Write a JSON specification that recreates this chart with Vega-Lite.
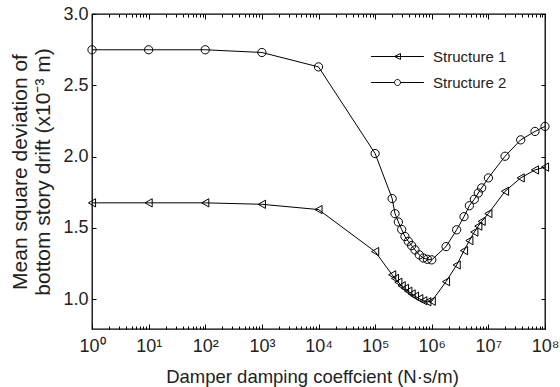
{
  "$schema": "https://vega.github.io/schema/vega-lite/v6.json",
  "width": 453,
  "height": 315,
  "autosize": {"type": "none"},
  "padding": {"left": 92, "top": 14, "right": 15, "bottom": 58},
  "background": "white",
  "config": {
    "view": {"stroke": "black", "strokeWidth": 1.3},
    "font": "Liberation Sans",
    "axis": {"domain": false, "grid": false, "labelFont": "Liberation Sans", "titleFont": "Liberation Sans", "labelColor": "#222", "titleColor": "#222", "tickColor": "black", "labelFontSize": 18, "titleFontSize": 18, "titleFontWeight": "normal"},
    "legend": {"labelFont": "Liberation Sans", "labelFontSize": 15, "labelColor": "#222"}
  },
  "data": {"values": [
    {"c": 1, "v": 1.675, "series": "Structure 1"},
    {"c": 10, "v": 1.675, "series": "Structure 1"},
    {"c": 100, "v": 1.675, "series": "Structure 1"},
    {"c": 1000, "v": 1.665, "series": "Structure 1"},
    {"c": 10000, "v": 1.628, "series": "Structure 1"},
    {"c": 100000, "v": 1.333, "series": "Structure 1"},
    {"c": 200000, "v": 1.170, "series": "Structure 1"},
    {"c": 224400, "v": 1.145, "series": "Structure 1"},
    {"c": 257000, "v": 1.118, "series": "Structure 1"},
    {"c": 294400, "v": 1.093, "series": "Structure 1"},
    {"c": 336500, "v": 1.075, "series": "Structure 1"},
    {"c": 385500, "v": 1.055, "series": "Structure 1"},
    {"c": 441600, "v": 1.036, "series": "Structure 1"},
    {"c": 505800, "v": 1.020, "series": "Structure 1"},
    {"c": 602600, "v": 1.003, "series": "Structure 1"},
    {"c": 709600, "v": 0.988, "series": "Structure 1"},
    {"c": 835600, "v": 0.981, "series": "Structure 1"},
    {"c": 1000000, "v": 0.985, "series": "Structure 1"},
    {"c": 1786000, "v": 1.122, "series": "Structure 1"},
    {"c": 2754000, "v": 1.239, "series": "Structure 1"},
    {"c": 3715000, "v": 1.340, "series": "Structure 1"},
    {"c": 4613000, "v": 1.410, "series": "Structure 1"},
    {"c": 5649000, "v": 1.470, "series": "Structure 1"},
    {"c": 6637000, "v": 1.512, "series": "Structure 1"},
    {"c": 7621000, "v": 1.545, "series": "Structure 1"},
    {"c": 10000000, "v": 1.600, "series": "Structure 1"},
    {"c": 19680000, "v": 1.756, "series": "Structure 1"},
    {"c": 37240000, "v": 1.850, "series": "Structure 1"},
    {"c": 66530000, "v": 1.906, "series": "Structure 1"},
    {"c": 100000000, "v": 1.926, "series": "Structure 1"},
    {"c": 1, "v": 2.749, "series": "Structure 2"},
    {"c": 10, "v": 2.749, "series": "Structure 2"},
    {"c": 100, "v": 2.749, "series": "Structure 2"},
    {"c": 1000, "v": 2.730, "series": "Structure 2"},
    {"c": 10000, "v": 2.629, "series": "Structure 2"},
    {"c": 100000, "v": 2.021, "series": "Structure 2"},
    {"c": 200000, "v": 1.705, "series": "Structure 2"},
    {"c": 224400, "v": 1.599, "series": "Structure 2"},
    {"c": 257000, "v": 1.541, "series": "Structure 2"},
    {"c": 294400, "v": 1.488, "series": "Structure 2"},
    {"c": 336500, "v": 1.439, "series": "Structure 2"},
    {"c": 385500, "v": 1.405, "series": "Structure 2"},
    {"c": 441600, "v": 1.375, "series": "Structure 2"},
    {"c": 505800, "v": 1.345, "series": "Structure 2"},
    {"c": 602600, "v": 1.310, "series": "Structure 2"},
    {"c": 709600, "v": 1.288, "series": "Structure 2"},
    {"c": 835600, "v": 1.279, "series": "Structure 2"},
    {"c": 1000000, "v": 1.275, "series": "Structure 2"},
    {"c": 1786000, "v": 1.368, "series": "Structure 2"},
    {"c": 2754000, "v": 1.486, "series": "Structure 2"},
    {"c": 3715000, "v": 1.578, "series": "Structure 2"},
    {"c": 4613000, "v": 1.655, "series": "Structure 2"},
    {"c": 5649000, "v": 1.700, "series": "Structure 2"},
    {"c": 6637000, "v": 1.744, "series": "Structure 2"},
    {"c": 7621000, "v": 1.780, "series": "Structure 2"},
    {"c": 10000000, "v": 1.850, "series": "Structure 2"},
    {"c": 19680000, "v": 2.002, "series": "Structure 2"},
    {"c": 37240000, "v": 2.117, "series": "Structure 2"},
    {"c": 66530000, "v": 2.176, "series": "Structure 2"},
    {"c": 100000000, "v": 2.211, "series": "Structure 2"}
  ]},
  "layer": [
    {
      "mark": {"type": "line", "color": "black", "strokeWidth": 1},
      "encoding": {
        "x": {"field": "c", "type": "quantitative",
          "scale": {"type": "log", "domain": [1, 100000000], "nice": false},
          "axis": {"orient": "bottom", "title": "Damper damping coeffcient (N·s/m)", "titleFontSize": 18.5, "titleX": 220,
            "values": [1,2,3,4,5,6,7,8,9,10,20,30,40,50,60,70,80,90,100,200,300,400,500,600,700,800,900,1000,2000,3000,4000,5000,6000,7000,8000,9000,10000,20000,30000,40000,50000,60000,70000,80000,90000,100000,200000,300000,400000,500000,600000,700000,800000,900000,1000000,2000000,3000000,4000000,5000000,6000000,7000000,8000000,9000000,10000000,20000000,30000000,40000000,50000000,60000000,70000000,80000000,90000000,100000000],
            "labelExpr": "indexof([1,10,100,1000,10000,100000,1000000,10000000,100000000], datum.value) >= 0 ? '10' + ['⁰','¹','²','³','⁴','⁵','⁶','⁷','⁸'][indexof([1,10,100,1000,10000,100000,1000000,10000000,100000000], datum.value)] : ''",
            "tickSize": {"condition": {"test": "indexof([1,10,100,1000,10000,100000,1000000,10000000,100000000], datum.value) >= 0", "value": -5}, "value": -3},
            "labelPadding": 13, "titlePadding": 10, "labelFlush": false, "labelOverlap": false}},
        "y": {"field": "v", "type": "quantitative",
          "scale": {"domain": [0.79, 3.0], "nice": false, "zero": false},
          "axis": {"orient": "left", "values": [1.0, 1.5, 2.0, 2.5, 3.0], "format": ".1f", "tickSize": -4, "labelPadding": 8,
            "title": ["Mean square deviation of", "bottom story drift (x10⁻³ m)"], "titleFontSize": 21, "titlePadding": 9, "titleLineHeight": 23}},
        "detail": {"field": "series"}
      }
    },
    {
      "mark": {"type": "point", "color": "black", "filled": false, "strokeWidth": 1, "size": 68, "opacity": 1},
      "encoding": {
        "x": {"field": "c", "type": "quantitative",
          "axis": {"orient": "top", "title": null, "labels": false,
            "values": [1,2,3,4,5,6,7,8,9,10,20,30,40,50,60,70,80,90,100,200,300,400,500,600,700,800,900,1000,2000,3000,4000,5000,6000,7000,8000,9000,10000,20000,30000,40000,50000,60000,70000,80000,90000,100000,200000,300000,400000,500000,600000,700000,800000,900000,1000000,2000000,3000000,4000000,5000000,6000000,7000000,8000000,9000000,10000000,20000000,30000000,40000000,50000000,60000000,70000000,80000000,90000000,100000000],
            "tickSize": {"condition": {"test": "indexof([1,10,100,1000,10000,100000,1000000,10000000,100000000], datum.value) >= 0", "value": -5}, "value": -3}}},
        "y": {"field": "v", "type": "quantitative",
          "axis": {"orient": "right", "title": null, "labels": false, "values": [1.0, 1.5, 2.0, 2.5, 3.0], "tickSize": -4}},
        "shape": {"field": "series", "type": "nominal",
          "scale": {"domain": ["Structure 1", "Structure 2"], "range": ["triangle-left", "circle"]}, "legend": null}
      }
    },
    {
      "transform": [{"filter": "false"}],
      "mark": {"type": "point", "color": "black", "filled": false, "strokeWidth": 1},
      "encoding": {
        "shape": {"field": "series", "type": "nominal",
          "scale": {"domain": ["Structure 1", "Structure 2"], "range": ["M-8.8,0H8.8M-1,0L1,-1L1,1Z", "M-8.8,0H-1M1,0H8.8M1,0A1,1,0,1,1,-1,0A1,1,0,1,1,1,0Z"]},
          "legend": {"title": null, "orient": "none", "legendX": 298, "legendY": 35, "symbolSize": 36, "symbolStrokeColor": "black", "symbolFillColor": "transparent", "symbolStrokeWidth": 1, "labelOffset": 28, "rowPadding": 10, "symbolOpacity": 1}}
      }
    }
  ],
  "resolve": {"axis": {"x": "independent", "y": "independent"}, "scale": {"shape": "independent"}}
}
